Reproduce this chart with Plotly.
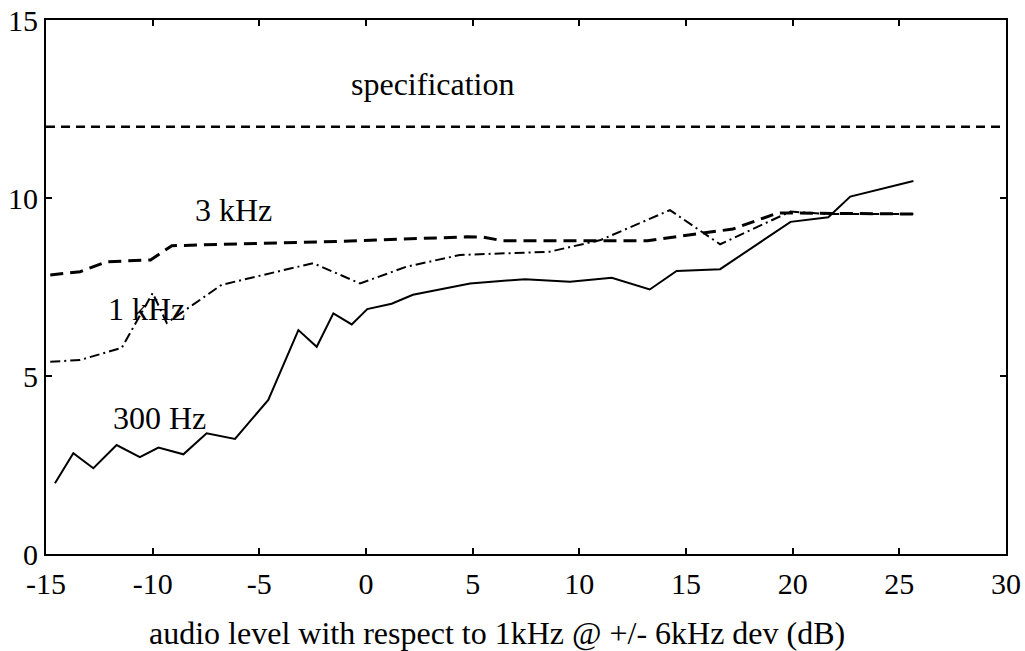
import plotly.graph_objects as go

# 300 Hz (solid)
x_300 = [-14.58, -13.72, -12.78, -11.69, -10.6, -9.73, -8.56, -7.47, -6.14, -4.58, -3.17,
         -2.31, -1.53, -0.67, 0.06, 1.2, 2.2, 4.88, 7.45, 9.56, 11.52, 13.3, 14.56, 16.6,
         19.9, 21.67, 22.7, 25.66]
y_300 = [1.99, 2.83, 2.41, 3.06, 2.72, 2.99, 2.80, 3.39, 3.23, 4.33, 6.29,
         5.82, 6.76, 6.45, 6.88, 7.03, 7.28, 7.6, 7.72, 7.65, 7.76, 7.43, 7.95, 8.0,
         9.33, 9.46, 10.04, 10.48]

# 1 kHz (dash-dot)
x_1k = [-14.8, -13.4, -11.45, -10.0, -9.34, -6.77, -2.48, -0.28, 1.9, 4.4, 8.6, 11.0,
        14.25, 16.6, 19.9, 21.6, 25.66]
y_1k = [5.40, 5.45, 5.79, 7.33, 6.49, 7.56, 8.17, 7.6, 8.07, 8.4, 8.49, 8.82,
        9.66, 8.7, 9.62, 9.55, 9.55]

# 3 kHz (dashed)
x_3k = [-14.8, -13.4, -12.15, -10.1, -9.1, -0.75, 4.7, 5.5, 6.4, 13.2, 17.2, 19.3, 25.66]
y_3k = [7.84, 7.93, 8.21, 8.26, 8.66, 8.79, 8.91, 8.9, 8.8, 8.8, 9.13, 9.58, 9.55]

# specification
x_spec = [-15, 30]
y_spec = [12, 12]

labels = ["specification", "3 kHz", "1 kHz", "300 Hz"]
label_x = [3.1, -6.2, -10.3, -9.7]
label_y = [13.2, 9.66, 6.88, 3.82]

x_ticks = [-15, -10, -5, 0, 5, 10, 15, 20, 25, 30]
x_ticktext = ["-15", "-10", "-5", "0", "5", "10", "15", "20", "25", "30"]
y_ticks = [0, 5, 10, 15]
y_ticktext = ["0", "5", "10", "15"]

x_title = "audio level with respect to 1kHz @ +/- 6kHz dev (dB)"

FONT = "Liberation Serif"

fig = go.Figure()
fig.add_trace(go.Scatter(x=x_spec, y=y_spec, mode="lines",
                         line=dict(color="black", width=2.5, dash="9px,6px"), showlegend=False))
fig.add_trace(go.Scatter(x=x_3k, y=y_3k, mode="lines",
                         line=dict(color="black", width=3, dash="13px,7px"), showlegend=False))
fig.add_trace(go.Scatter(x=x_1k, y=y_1k, mode="lines",
                         line=dict(color="black", width=2, dash="10px,4px,2px,4px"), showlegend=False))
fig.add_trace(go.Scatter(x=x_300, y=y_300, mode="lines",
                         line=dict(color="black", width=2), showlegend=False))

for t, xx, yy in zip(labels, label_x, label_y):
    fig.add_annotation(x=xx, y=yy, text=t, showarrow=False,
                       font=dict(family=FONT, size=32, color="black"))

fig.add_annotation(x=0.47, y=-0.148, xref="paper", yref="paper", text=x_title,
                   showarrow=False, xanchor="center", yanchor="middle",
                   font=dict(family=FONT, size=32, color="black"))

axis_common = dict(showline=True, linecolor="black", linewidth=2, mirror="ticks",
                   ticks="inside", ticklen=6, tickwidth=2, tickcolor="black",
                   showgrid=False, zeroline=False, automargin=False,
                   tickfont=dict(family=FONT, size=30, color="black"))

fig.update_xaxes(range=[-15, 30], tickvals=x_ticks, ticktext=x_ticktext,
                 ticklabelstandoff=2, **axis_common)
fig.update_yaxes(range=[0, 15], tickvals=y_ticks, ticktext=y_ticktext, **axis_common)

fig.update_layout(width=1025, height=651, margin=dict(l=46, r=19, t=20, b=97),
                  plot_bgcolor="white", paper_bgcolor="white")

fig.write_html("out.html")
